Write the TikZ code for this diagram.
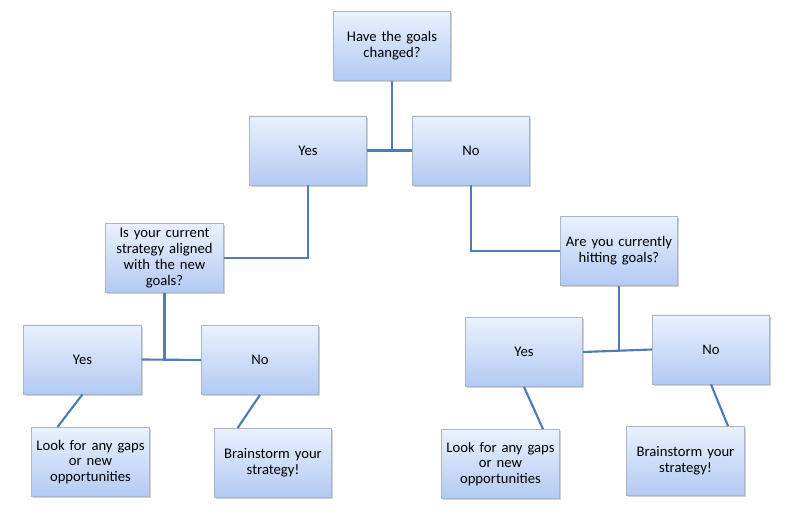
\documentclass[tikz,border=0pt]{standalone}
\usepackage{fontspec}
\setmainfont{Carlito}
\usetikzlibrary{shadows,calc}
\definecolor{boxtop}{HTML}{EAF1FD}
\definecolor{boxbot}{HTML}{B2CAF3}
\definecolor{boxline}{HTML}{A9B6C8}
\definecolor{conn}{HTML}{4C7DB5}
\tikzset{
  box/.style={draw=boxline, line width=0.6pt, top color=boxtop, bottom color=boxbot,
    minimum width=117*0.75pt, minimum height=69*0.75pt, inner sep=2pt,
    align=center, font=\fontsize{11}{11.8}\selectfont, text width=84pt,
    drop shadow={shadow xshift=1.2pt, shadow yshift=-1.2pt, fill=black!30, opacity=0.6}},
  conn/.style={draw=conn, line width=1.6pt}
}
\begin{document}
\begin{tikzpicture}[x=0.75pt, y=-0.75pt]
\useasboundingbox (0,0) rectangle (786,520);
\node[box] (top) at (392,46) {Have the goals\\changed?};
\node[box] (yes1) at (308,150.5) {Yes};
\node[box] (no1) at (471,150.5) {No};
\node[box] (strat) at (164.5,258) {Is your current\\strategy aligned\\with the new\\goals?};
\node[box] (hit) at (619,251) {Are you currently\\hitting goals?};
\node[box] (syes) at (82.5,359.5) {Yes};
\node[box] (sno) at (260,360) {No};
\node[box] (ryes) at (524,352) {Yes};
\node[box] (rno) at (711,349.5) {No};
\node[box] (look1) at (90.5,462) {Look for any gaps\\or new\\opportunities};
\node[box] (brain1) at (273,463) {Brainstorm your\\strategy!};
\node[box] (look2) at (500.5,464) {Look for any gaps\\or new\\opportunities};
\node[box] (brain2) at (685.5,461) {Brainstorm your\\strategy!};
% connectors
\coordinate (j1) at (top.south |- yes1.east);
\draw[conn] (top.south) -- (j1);
\draw[conn] (yes1.east) -- (no1.west);
\draw[conn] (yes1.south) |- (strat.east);
\draw[conn] (no1.south) |- (hit.west);
\coordinate (j2) at (strat.south |- syes.east);
\draw[conn] (strat.south) -- (j2);
\draw[conn] (syes.east) -- (sno.west);
\coordinate (j3) at (hit.south |- 0,351);
\draw[conn] (hit.south) -- (j3);
\draw[conn] (ryes.east) -- (rno.west);
\draw[conn] (syes.south) -- ($(look1.north west)!0.22!(look1.north east)$);
\draw[conn] (sno.south) -- ($(brain1.north west)!0.2!(brain1.north east)$);
\draw[conn] (ryes.south) -- ($(look2.north west)!0.86!(look2.north east)$);
\draw[conn] (rno.south) -- ($(brain2.north west)!0.86!(brain2.north east)$);
\end{tikzpicture}
\end{document}
